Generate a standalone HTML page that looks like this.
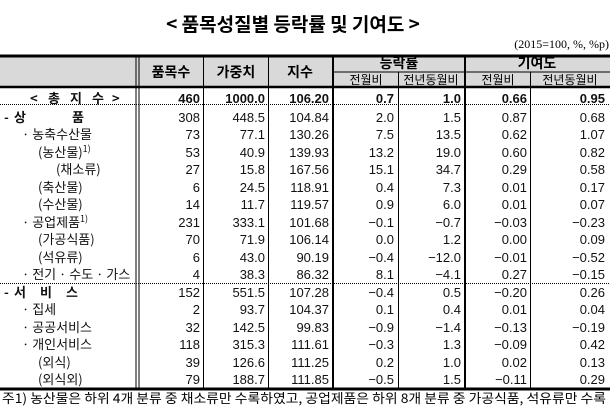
<!DOCTYPE html>
<html><head><meta charset="utf-8"><style>
html,body{margin:0;padding:0;background:#fff;}
svg{display:block;font-family:"Liberation Sans","Noto Sans CJK KR",sans-serif;}
.n{font-size:13px;text-anchor:end;fill:#111;}
.b{font-weight:bold;}
.l{font-size:13px;fill:#111;font-family:"Noto Sans CJK KR","Liberation Sans",sans-serif;}
.h{font-size:14px;font-weight:bold;text-anchor:middle;font-family:"Noto Sans CJK KR",sans-serif;}
.s{font-size:12px;text-anchor:middle;font-family:"Noto Sans CJK KR",sans-serif;}
</style></head><body>
<svg width="610" height="412" viewBox="0 0 610 412">
<text x="293" y="31" font-size="19" font-weight="bold" text-anchor="middle" font-family="Noto Sans CJK KR,sans-serif">&lt; 품목성질별 등락률 및 기여도 &gt;</text>
<text x="609" y="48" font-size="12" text-anchor="end" font-family="Liberation Serif,serif">(2015=100,  %,  %p)</text>
<rect x="0" y="57" width="610" height="30" fill="#d9d9d9"/>
<line x1="0" y1="56" x2="610" y2="56" stroke="#000" stroke-width="3"/>
<line x1="0" y1="87" x2="610" y2="87" stroke="#000" stroke-width="2.5"/>
<line x1="333" y1="72" x2="610" y2="72" stroke="#000" stroke-width="1"/>
<line x1="0" y1="104.5" x2="610" y2="104.5" stroke="#000" stroke-width="1" stroke-dasharray="1,1"/>
<line x1="0" y1="283.5" x2="610" y2="283.5" stroke="#000" stroke-width="1" stroke-dasharray="1,1"/>
<line x1="0" y1="389" x2="610" y2="389" stroke="#000" stroke-width="3"/>
<g stroke="#000">
<line x1="136" y1="56" x2="136" y2="389" stroke-width="1"/>
<line x1="139" y1="56" x2="139" y2="389" stroke-width="1"/>
<line x1="203.5" y1="56" x2="203.5" y2="389" stroke-width="1"/>
<line x1="268.5" y1="56" x2="268.5" y2="389" stroke-width="1"/>
<line x1="333" y1="56" x2="333" y2="389" stroke-width="2"/>
<line x1="398.5" y1="72" x2="398.5" y2="389" stroke-width="1"/>
<line x1="465" y1="56" x2="465" y2="389" stroke-width="2"/>
<line x1="530.5" y1="72" x2="530.5" y2="389" stroke-width="1"/>
</g>
<text class="h" x="171" y="77">품목수</text>
<text class="h" x="236" y="77">가중치</text>
<text class="h" x="300" y="77">지수</text>
<text class="h" x="399" y="68">등락률</text>
<text class="h" x="537" y="68">기여도</text>
<text class="s" x="366" y="84">전월비</text>
<text class="s" x="431" y="84">전년동월비</text>
<text class="s" x="498" y="84">전월비</text>
<text class="s" x="570" y="84">전년동월비</text>
<g>
<text class="l b" y="103" font-size="14"><tspan x="30">&lt;</tspan><tspan x="48">총</tspan><tspan x="70">지</tspan><tspan x="92">수</tspan><tspan x="112">&gt;</tspan></text>
<text class="n b" x="200" y="103">460</text><text class="n b" x="265" y="103">1000.0</text><text class="n b" x="329" y="103">106.20</text><text class="n b" x="394" y="103">0.7</text><text class="n b" x="461" y="103">1.0</text><text class="n b" x="527" y="103">0.66</text><text class="n b" x="605" y="103">0.95</text>
</g>
<g>
<text class="l b" y="122"><tspan x="4">-</tspan><tspan x="14">상</tspan><tspan x="72">품</tspan></text>
<text class="l" x="22" y="139">· 농축수산물</text>
<text class="l" x="38" y="157">(농산물)<tspan font-size="9" dy="-5">1)</tspan></text>
<text class="l" x="56" y="174">(채소류)</text>
<text class="l" x="38" y="192">(축산물)</text>
<text class="l" x="38" y="209">(수산물)</text>
<text class="l" x="22" y="227">· 공업제품<tspan font-size="9" dy="-5">1)</tspan></text>
<text class="l" x="38" y="244">(가공식품)</text>
<text class="l" x="38" y="262">(석유류)</text>
<text class="l" x="22" y="279">· 전기 · 수도 · 가스</text>
<text class="l b" y="297"><tspan x="4">-</tspan><tspan x="14">서</tspan><tspan x="40">비</tspan><tspan x="66">스</tspan></text>
<text class="l" x="22" y="314">· 집세</text>
<text class="l" x="22" y="332">· 공공서비스</text>
<text class="l" x="22" y="349">· 개인서비스</text>
<text class="l" x="38" y="367">(외식)</text>
<text class="l" x="38" y="384">(외식외)</text>
</g>
<g>
<text class="n" x="200" y="122">308</text><text class="n" x="265" y="122">448.5</text><text class="n" x="329" y="122">104.84</text><text class="n" x="394" y="122">2.0</text><text class="n" x="461" y="122">1.5</text><text class="n" x="527" y="122">0.87</text><text class="n" x="605" y="122">0.68</text>
<text class="n" x="200" y="139">73</text><text class="n" x="265" y="139">77.1</text><text class="n" x="329" y="139">130.26</text><text class="n" x="394" y="139">7.5</text><text class="n" x="461" y="139">13.5</text><text class="n" x="527" y="139">0.62</text><text class="n" x="605" y="139">1.07</text>
<text class="n" x="200" y="157">53</text><text class="n" x="265" y="157">40.9</text><text class="n" x="329" y="157">139.93</text><text class="n" x="394" y="157">13.2</text><text class="n" x="461" y="157">19.0</text><text class="n" x="527" y="157">0.60</text><text class="n" x="605" y="157">0.82</text>
<text class="n" x="200" y="174">27</text><text class="n" x="265" y="174">15.8</text><text class="n" x="329" y="174">167.56</text><text class="n" x="394" y="174">15.1</text><text class="n" x="461" y="174">34.7</text><text class="n" x="527" y="174">0.29</text><text class="n" x="605" y="174">0.58</text>
<text class="n" x="200" y="192">6</text><text class="n" x="265" y="192">24.5</text><text class="n" x="329" y="192">118.91</text><text class="n" x="394" y="192">0.4</text><text class="n" x="461" y="192">7.3</text><text class="n" x="527" y="192">0.01</text><text class="n" x="605" y="192">0.17</text>
<text class="n" x="200" y="209">14</text><text class="n" x="265" y="209">11.7</text><text class="n" x="329" y="209">119.57</text><text class="n" x="394" y="209">0.9</text><text class="n" x="461" y="209">6.0</text><text class="n" x="527" y="209">0.01</text><text class="n" x="605" y="209">0.07</text>
<text class="n" x="200" y="227">231</text><text class="n" x="265" y="227">333.1</text><text class="n" x="329" y="227">101.68</text><text class="n" x="394" y="227">−0.1</text><text class="n" x="461" y="227">−0.7</text><text class="n" x="527" y="227">−0.03</text><text class="n" x="605" y="227">−0.23</text>
<text class="n" x="200" y="244">70</text><text class="n" x="265" y="244">71.9</text><text class="n" x="329" y="244">106.14</text><text class="n" x="394" y="244">0.0</text><text class="n" x="461" y="244">1.2</text><text class="n" x="527" y="244">0.00</text><text class="n" x="605" y="244">0.09</text>
<text class="n" x="200" y="262">6</text><text class="n" x="265" y="262">43.0</text><text class="n" x="329" y="262">90.19</text><text class="n" x="394" y="262">−0.4</text><text class="n" x="461" y="262">−12.0</text><text class="n" x="527" y="262">−0.01</text><text class="n" x="605" y="262">−0.52</text>
<text class="n" x="200" y="279">4</text><text class="n" x="265" y="279">38.3</text><text class="n" x="329" y="279">86.32</text><text class="n" x="394" y="279">8.1</text><text class="n" x="461" y="279">−4.1</text><text class="n" x="527" y="279">0.27</text><text class="n" x="605" y="279">−0.15</text>
<text class="n" x="200" y="297">152</text><text class="n" x="265" y="297">551.5</text><text class="n" x="329" y="297">107.28</text><text class="n" x="394" y="297">−0.4</text><text class="n" x="461" y="297">0.5</text><text class="n" x="527" y="297">−0.20</text><text class="n" x="605" y="297">0.26</text>
<text class="n" x="200" y="314">2</text><text class="n" x="265" y="314">93.7</text><text class="n" x="329" y="314">104.37</text><text class="n" x="394" y="314">0.1</text><text class="n" x="461" y="314">0.4</text><text class="n" x="527" y="314">0.01</text><text class="n" x="605" y="314">0.04</text>
<text class="n" x="200" y="332">32</text><text class="n" x="265" y="332">142.5</text><text class="n" x="329" y="332">99.83</text><text class="n" x="394" y="332">−0.9</text><text class="n" x="461" y="332">−1.4</text><text class="n" x="527" y="332">−0.13</text><text class="n" x="605" y="332">−0.19</text>
<text class="n" x="200" y="349">118</text><text class="n" x="265" y="349">315.3</text><text class="n" x="329" y="349">111.61</text><text class="n" x="394" y="349">−0.3</text><text class="n" x="461" y="349">1.3</text><text class="n" x="527" y="349">−0.09</text><text class="n" x="605" y="349">0.42</text>
<text class="n" x="200" y="367">39</text><text class="n" x="265" y="367">126.6</text><text class="n" x="329" y="367">111.25</text><text class="n" x="394" y="367">0.2</text><text class="n" x="461" y="367">1.0</text><text class="n" x="527" y="367">0.02</text><text class="n" x="605" y="367">0.13</text>
<text class="n" x="200" y="384">79</text><text class="n" x="265" y="384">188.7</text><text class="n" x="329" y="384">111.85</text><text class="n" x="394" y="384">−0.5</text><text class="n" x="461" y="384">1.5</text><text class="n" x="527" y="384">−0.11</text><text class="n" x="605" y="384">0.29</text>
</g>
<text x="2" y="403" font-size="13" textLength="604" lengthAdjust="spacingAndGlyphs" font-family="Noto Sans CJK KR,sans-serif">주1) 농산물은 하위 4개 분류 중 채소류만 수록하였고, 공업제품은 하위 8개 분류 중 가공식품, 석유류만 수록</text>
</svg>
</body></html>
